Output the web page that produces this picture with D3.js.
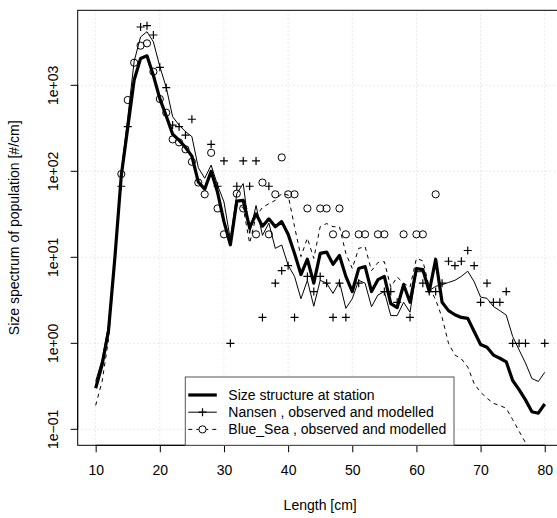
<!DOCTYPE html>
<html>
<head>
<meta charset="utf-8">
<script src="https://cdn.jsdelivr.net/npm/d3@7"></script>
<style>
body{margin:0;background:#fff;}
text{font-family:"Liberation Sans",Arial,sans-serif;font-size:14px;fill:#000;}
</style>
</head>
<body>
<div id="wrapper"></div>
<script>
// length classes (cm)
const lengths = [10,11,12,13,14,15,16,17,18,19,20,21,22,23,24,25,26,27,28,29,30,
    31,32,33,34,35,36,37,38,39,40,41,42,43,44,45,46,47,48,49,50,
    51,52,53,54,55,56,57,58,59,60,61,62,63,64,65,66,67,68,69,70,
    71,72,73,74,75,76,77,78,79,80]

const station = [0.30,0.56,1.4,10,90,320,1150,2050,2200,1300,700,440,270,230,190,150,75,62,100,57,26,
    14,45,46,22,32,23,28,22.7,26,18.5,11.1,6.3,9.5,5.0,11.1,11.5,8.3,10.5,6.0,4.0,
    7.4,7.8,4.0,5.5,6.0,2.9,2.6,4.8,3.0,7.4,7.2,4.0,9.5,3.0,2.4,2.15,2.0,1.95,1.37,0.97,
    0.9,0.73,0.67,0.61,0.37,0.29,0.22,0.16,0.154,0.197]

const nansenModel = [0.36,0.65,1.6,11,100,420,1900,3650,4200,3200,1650,944,431,345,290,253,110,83,118,69,44,
    16,55,72,19,40,18,25,12.7,13.9,8.1,6.0,3.3,5.4,2.7,5.4,5.0,3.8,5.2,2.55,3.3,
    5.4,5.0,2.66,3.65,4.0,2.1,2.1,3.0,2.3,6.8,6.8,4.1,4.6,4.8,5.1,5.4,6.0,6.9,5.2,3.45,
    3.33,2.68,2.4,2.13,1.2,0.84,0.59,0.39,0.36,0.46]

const blueModel = [0.19,0.36,1.1,9,85,300,1150,2050,2200,1300,700,440,270,230,190,150,75,62,100,57,26,
    15,40,38,14.6,30,38,42,46,55,53,22.7,10.2,16.7,9.7,22.7,24.7,22.7,22.7,11.1,7.4,
    12.7,13.3,7.0,8.7,8.9,4.5,5.9,5.0,4.5,9.7,9.1,4.5,3.2,2.0,1.0,0.73,0.66,0.53,0.34,0.27,
    0.23,0.2,0.19,0.175,0.13,0.095,0.07,0.052,0.05,0.068]

// observed points
const nansenObsLen = [14,15,17,18,19,20,21,22,23,24,25,28,29,30,31,32,33,34,35,36,37,38,39,40,41,
    43,44,45,46,47,48,49,51,55,56,57,59,61,62,63,64,65,66,67,68,69,70,71,72,73,74,75,76,77,80]
const nansenObsVal = [67,330,4760,4930,3845,1620,938,345,330,264,403,206,67,132,1,67,132,67,132,2,67,5,7,8,2,
    6,4,6,5,2,5,2,5,4,4,3,2,5,4,4,5,9,8,9,12,8,3,5,3,3,4,1,1,1,1]

const blueObsLen = [14,15,16,17,18,19,20,21,22,23,24,25,26,27,28,29,30,32,33,35,36,37,38,39,40,41,
    43,45,46,47,48,49,51,52,54,55,58,60,61,63]
const blueObsVal = [93,675,1830,2890,3075,1440,693,480,235,217,180,129,74,54,164,37,18.5,55,37,18.5,74,18.5,54,145,54,54,
    37,37,37,18.5,37,18.5,18.5,18.5,18.5,18.5,18.5,18.5,18.5,54]

const xTicks = [10,20,30,40,50,60,70,80]
const yTicks = [0.1,1,10,100,1000]
const yTickLabels = ["1e\u221201","1e+00","1e+01","1e+02","1e+03"]

const legendLabels = ["Size structure at station","Nansen , observed and modelled","Blue_Sea , observed and modelled"]

function drawChart(){
    let dimensions = {
        width: 557,
        height: 518,
        margin: {top: 10.3, right: -5.7, bottom: 72.7, left: 77.7},
    }
    dimensions.boundedWidth = dimensions.width - dimensions.margin.left - dimensions.margin.right
    dimensions.boundedHeight = dimensions.height - dimensions.margin.top - dimensions.margin.bottom

    const wrapper = d3.select("#wrapper")
        .append("svg")
        .attr("width", dimensions.width)
        .attr("height", dimensions.height)
        .style("display","block")

    wrapper.append("rect")
        .attr("width", dimensions.width).attr("height", dimensions.height).attr("fill","#fff")

    const bounds = wrapper.append("g")
        .attr("transform", `translate(${dimensions.margin.left},${dimensions.margin.top})`)

    // R style: 4% padding around 10..80
    const xScale = d3.scaleLinear()
        .domain([7.2, 82.8])
        .range([0, dimensions.boundedWidth])

    const yScale = d3.scaleLog()
        .domain([0.0652, 7448])
        .range([dimensions.boundedHeight, 0])

    bounds.append("clipPath").attr("id","plotclip")
        .append("rect")
        .attr("width", dimensions.boundedWidth)
        .attr("height", dimensions.boundedHeight)

    // grid
    const grid = bounds.append("g")
    grid.selectAll(".gx").data(xTicks).join("line")
        .attr("x1", d => xScale(d)).attr("x2", d => xScale(d))
        .attr("y1", 0).attr("y2", dimensions.boundedHeight)
        .attr("stroke", "#d3d3d3").attr("stroke-dasharray", "1,3")
    grid.selectAll(".gy").data(yTicks).join("line")
        .attr("y1", d => yScale(d)).attr("y2", d => yScale(d))
        .attr("x1", 0).attr("x2", dimensions.boundedWidth)
        .attr("stroke", "#d3d3d3").attr("stroke-dasharray", "1,3")

    const plot = bounds.append("g").attr("clip-path","url(#plotclip)")

    const lineGenerator = vals => d3.line()
        .x((d,i) => xScale(lengths[i]))
        .y(d => yScale(d))(vals)

    plot.append("path")
        .attr("d", lineGenerator(blueModel))
        .attr("fill","none").attr("stroke","#000").attr("stroke-width",1)
        .attr("stroke-dasharray","4,4")

    plot.append("path")
        .attr("d", lineGenerator(nansenModel))
        .attr("fill","none").attr("stroke","#000").attr("stroke-width",1)

    plot.append("path")
        .attr("d", lineGenerator(station))
        .attr("fill","none").attr("stroke","#000").attr("stroke-width",3.2)
        .attr("stroke-linejoin","round")

    // observed points
    const plusPath = "M-4,0H4M0,-4V4"
    plot.selectAll(".plus").data(nansenObsVal).join("path")
        .attr("transform", (d,i) => `translate(${xScale(nansenObsLen[i])},${yScale(d)})`)
        .attr("d", plusPath)
        .attr("stroke","#000").attr("stroke-width",1.2).attr("fill","none")

    plot.selectAll(".circ").data(blueObsVal).join("circle")
        .attr("cx", (d,i) => xScale(blueObsLen[i]))
        .attr("cy", d => yScale(d))
        .attr("r", 3.6)
        .attr("stroke","#000").attr("stroke-width",1).attr("fill","none")

    // axes
    const xAxis = bounds.append("g")
        .attr("transform", `translate(0,${dimensions.boundedHeight})`)
        .call(d3.axisBottom(xScale).tickValues(xTicks).tickSize(7).tickPadding(13).tickSizeOuter(0))
    xAxis.select(".domain").attr("d", `M${xScale(10)},0H${xScale(80)}`)
    xAxis.selectAll("text").style("font-size","14px").attr("fill","#000")

    const yAxis = bounds.append("g")
        .call(d3.axisLeft(yScale).tickValues(yTicks).tickFormat((d,i) => yTickLabels[i]).tickSize(7).tickSizeOuter(0))
    yAxis.select(".domain").attr("d", `M0,${yScale(0.1)}V${yScale(1000)}`)
    yAxis.selectAll(".tick").attr("transform","translate(0,0)")
    yAxis.selectAll(".tick line").attr("y1", d => yScale(d)).attr("y2", d => yScale(d))
    yAxis.selectAll(".tick text")
        .attr("transform","rotate(-90)")
        .attr("x", d => -yScale(d)).attr("y", -20).attr("dy", 0)
        .attr("text-anchor","middle")
        .style("font-size","14px").attr("fill","#000")

    // box
    bounds.append("rect")
        .attr("width", dimensions.boundedWidth).attr("height", dimensions.boundedHeight)
        .attr("fill","none").attr("stroke","#000").attr("stroke-width",1)

    // axis titles
    wrapper.append("text")
        .attr("x", dimensions.margin.left + xScale(45))
        .attr("y", 510)
        .attr("text-anchor","middle")
        .text("Length [cm]")
    wrapper.append("text")
        .attr("transform", `translate(19,${dimensions.margin.top + dimensions.boundedHeight/2}) rotate(-90)`)
        .attr("text-anchor","middle")
        .text("Size spectrum of population [#/cm]")

    // legend
    const legend = wrapper.append("g").attr("transform","translate(185.3,377)")
    legend.append("rect")
        .attr("width", 268.7).attr("height", 68.3)
        .attr("fill","#fff").attr("stroke","#555").attr("stroke-width",1)
    const rows = legend.selectAll(".row").data(legendLabels).join("g")
        .attr("transform", (d,i) => `translate(0,${18 + i*17.2})`)
    rows.append("line")
        .attr("x1", 3).attr("x2", 31.5)
        .attr("stroke","#000")
        .attr("stroke-width", (d,i) => i === 0 ? 3.2 : 1)
        .attr("stroke-dasharray", (d,i) => i === 2 ? "4,4" : null)
    rows.filter((d,i) => i === 1).append("path")
        .attr("transform","translate(17.2,0)").attr("d", plusPath)
        .attr("stroke","#000").attr("stroke-width",1.2)
    rows.filter((d,i) => i === 2).append("circle")
        .attr("cx", 17.2).attr("r", 3.6)
        .attr("stroke","#000").attr("fill","#fff")
    rows.append("text")
        .attr("x", 43).attr("dy","0.35em")
        .text(d => d)
}
drawChart()
</script>
</body>
</html>
